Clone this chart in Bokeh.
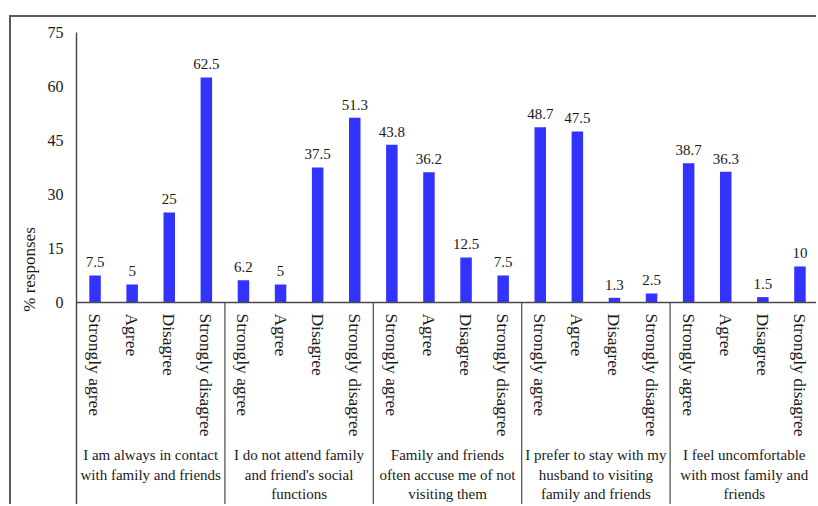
from bokeh.plotting import figure
from bokeh.models import (FactorRange, ColumnDataSource, FixedTicker, LinearAxis,
                          CategoricalAxis, CategoricalScale, Range1d)
from bokeh.core.properties import value
from bokeh.embed import file_html
from bokeh.resources import INLINE

groups = [
    "I am always in contact\nwith family and friends",
    "I do not attend family\nand friend's social\nfunctions",
    "Family and friends\noften accuse me of not\nvisiting them",
    "I prefer to stay with my\nhusband to visiting\nfamily and friends",
    "I feel uncomfortable\nwith most family and\nfriends",
]
responses = ["Strongly agree", "Agree", "Disagree", "Strongly disagree"]
always_contact = [7.5, 5, 25, 62.5]
not_attend = [6.2, 5, 37.5, 51.3]
accused = [43.8, 36.2, 12.5, 7.5]
prefer_husband = [48.7, 47.5, 1.3, 2.5]
uncomfortable = [38.7, 36.3, 1.5, 10]
y_ticks = [0, 15, 30, 45, 60, 75]

series = [always_contact, not_attend, accused, prefer_husband, uncomfortable]

FONT = "Liberation Serif"
TXT = "#1a1a1a"
LINE = "#4a4a4a"

xs, vals, labels = [], [], []
for g, vs in zip(groups, series):
    for r, v in zip(responses, vs):
        xs.append((g, r))
        vals.append(v)
        labels.append(f"{v:g}")
src = ColumnDataSource(dict(x=xs, v=vals, t=labels))

# y range extends below zero so that the category area lies inside the frame
y_range = Range1d(start=-56.67, end=75)
x_range = FactorRange(*xs, group_padding=0, factor_padding=0, range_padding=0)

p = figure(x_range=x_range, y_range=y_range, width=807, height=489,
           output_backend="svg", toolbar_location=None,
           min_border_left=65, min_border_right=0, min_border_top=15,
           min_border_bottom=0, x_axis_location=None, y_axis_location=None)
p.margin = (15, 0, 0, 9)
p.styles = {"border-top": "2px solid #5a5a5a", "border-left": "2px solid #5a5a5a"}
p.outline_line_color = None
p.grid.visible = False
p.background_fill_color = "white"
p.border_fill_color = "white"

p.vbar(x="x", top="v", width=0.31, source=src, fill_color="#3333ff", line_color=None)
p.text(x="x", y="v", text="t", source=src, text_align="center", text_baseline="bottom",
       y_offset=-8, text_font=value(FONT), text_font_size="15px", text_color=TXT)

# separators between statement groups, below the axis
bounds = []
acc = 0
for vs in series[:-1]:
    acc += len(vs)
    bounds.append(acc)
p.segment(x0=bounds, y0=[0] * len(bounds), x1=bounds, y1=[y_range.start] * len(bounds),
          line_color=LINE, line_width=1.2)

# y axis: ticks and line (line continues down to the bottom)
ya = LinearAxis(ticker=FixedTicker(ticks=y_ticks))
ya.major_tick_line_color = None
ya.minor_tick_line_color = None
ya.major_tick_out = 0
ya.minor_tick_out = 0
ya.axis_line_color = LINE
ya.axis_line_width = 1.5
ya.major_label_standoff = 13
ya.major_label_text_font = FONT
ya.major_label_text_font_size = "16px"
ya.major_label_text_color = TXT
p.add_layout(ya, "left")

# y axis title, centred on the 0-75 span
yl = LinearAxis(ticker=FixedTicker(ticks=[]), bounds=(0, 75))
yl.axis_line_color = None
yl.major_tick_line_color = None
yl.minor_tick_line_color = None
yl.major_tick_out = 0
yl.minor_tick_out = 0
yl.major_label_standoff = 0
yl.axis_label = "% responses"
yl.axis_label_text_font = FONT
yl.axis_label_text_font_size = "17px"
yl.axis_label_text_font_style = "normal"
yl.axis_label_text_color = TXT
yl.axis_label_standoff = 6
p.add_layout(yl, "left")

# x axis with response labels at y = 0
xa = CategoricalAxis(fixed_location=0)
xa.major_tick_line_color = None
xa.minor_tick_line_color = None
xa.major_tick_out = 0
xa.axis_line_color = LINE
xa.axis_line_width = 1.5
xa.separator_line_color = None
xa.major_label_orientation = "vertical"
xa.major_label_standoff = 11
xa.major_label_text_font = FONT
xa.major_label_text_font_size = "17.5px"
xa.major_label_text_color = TXT
xa.group_text_font_size = "0px"
xa.group_text_color = None
p.add_layout(xa, "below")

# statement labels under each group of four
p.extra_x_ranges = {"groups": FactorRange(*groups, factor_padding=0, range_padding=0)}
p.extra_x_scales = {"groups": CategoricalScale()}
ga = CategoricalAxis(x_range_name="groups", fixed_location=0)
ga.axis_line_color = None
ga.major_tick_line_color = None
ga.minor_tick_line_color = None
ga.major_tick_out = 0
ga.major_label_orientation = "horizontal"
ga.major_label_standoff = 145
ga.major_label_text_font = FONT
ga.major_label_text_font_size = "15px"
ga.major_label_text_color = TXT
ga.major_label_text_line_height = 1.2
p.add_layout(ga, "below")

open("out.html", "w").write(file_html(p, INLINE))
